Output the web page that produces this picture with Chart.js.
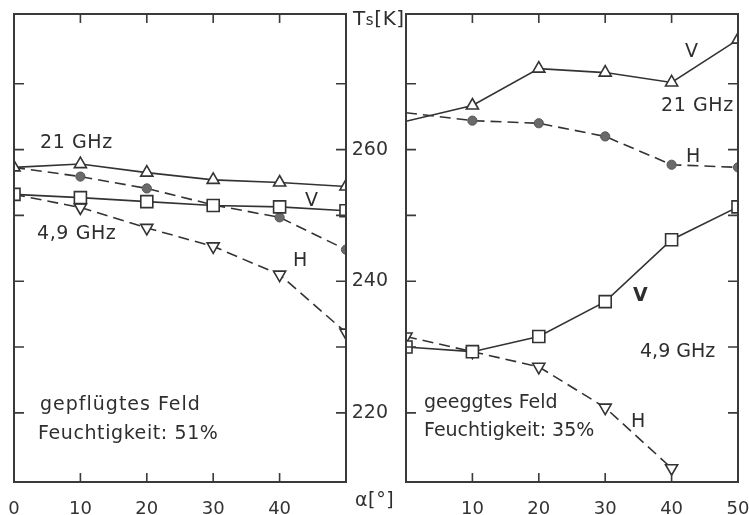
<!DOCTYPE html>
<html>
<head>
<meta charset="utf-8">
<script src="https://cdn.jsdelivr.net/npm/chart.js@4/dist/chart.umd.min.js"></script>
<style>
  html, body { margin:0; padding:0; background:#fff; }
  #wrap { position:relative; width:749px; height:515px; overflow:hidden; font-family:"DejaVu Sans", sans-serif; color:#2e2e2e; }
  canvas { position:absolute; top:0; }
  .t { position:absolute; font-size:19px; line-height:1; white-space:nowrap; letter-spacing:0.6px; }
</style>
</head>
<body>
<div id="wrap">
  <canvas id="left" width="375" height="515" style="left:0;width:375px;height:515px"></canvas>
  <canvas id="right" width="400" height="515" style="left:349px;width:400px;height:515px"></canvas>

  <div class="t" style="left:40px;top:132px">21 GHz</div>
  <div class="t" style="left:305px;top:190px">V</div>
  <div class="t" style="left:37px;top:223px">4,9 GHz</div>
  <div class="t" style="left:293px;top:250px">H</div>
  <div class="t" style="left:40px;top:394px;letter-spacing:1px">gepflügtes Feld</div>
  <div class="t" style="left:38px;top:423px">Feuchtigkeit: 51%</div>

  <div class="t" style="left:685px;top:41px">V</div>
  <div class="t" style="left:661px;top:95px">21 GHz</div>
  <div class="t" style="left:686px;top:146px">H</div>
  <div class="t" style="left:633px;top:285px;font-weight:bold">V</div>
  <div class="t" style="left:640px;top:341px;letter-spacing:0">4,9 GHz</div>
  <div class="t" style="left:631px;top:411px">H</div>
  <div class="t" style="left:424px;top:392px;letter-spacing:0">geeggtes Feld</div>
  <div class="t" style="left:424px;top:420px;letter-spacing:0">Feuchtigkeit: 35%</div>

  <div class="t" style="left:353px;top:8px;font-size:20px">T<span style="font-size:15px">s</span>[K]</div>
  <div class="t" style="left:355px;top:490px;font-size:19px">α[°]</div>
</div>
<script>
// ---- data ----
const angles = [0, 10, 20, 30, 40, 50];
const anglesHarrowed49H = [0, 10, 20, 30, 40];

// Left panel: gepflügtes Feld (plowed field), humidity 51 %
const plowed21V = [257.3, 257.8, 256.5, 255.4, 255.0, 254.4];
const plowed21H = [257.3, 255.9, 254.1, 251.6, 249.7, 244.8];
const plowed49V = [253.2, 252.7, 252.1, 251.5, 251.3, 250.7];
const plowed49H = [253.2, 251.2, 248.1, 245.3, 241.0, 232.2];

// Right panel: geeggtes Feld (harrowed field), humidity 35 %
const harrowed21V = [264.3, 266.7, 272.3, 271.7, 270.2, 276.7];
const harrowed21H = [265.6, 264.4, 264.0, 262.0, 257.7, 257.3];
const harrowed49V = [230.0, 229.3, 231.6, 236.9, 246.3, 251.3];
const harrowed49H = [231.6, 229.3, 227.0, 220.8, 211.6];

// axis ticks
const xTickMarks = [10, 20, 30, 40];
const yTickMarks = [220, 230, 240, 250, 260, 270];
const yTickLabels = [220, 240, 260];
const leftXLabels = [0, 10, 20, 30, 40];
const rightXLabels = [10, 20, 30, 40, 50];

// ---- styling ----
const INK = '#333333';
const pts = (xs, ys) => ys.map((v, i) => ({ x: xs[i], y: v }));

function ds(xs, ys, kind, dashed, hideFirst) {
  const base = {
    data: pts(xs, ys),
    borderColor: INK,
    borderWidth: 1.6,
    borderDash: dashed ? [11, 6] : [],
    tension: 0,
    pointBorderColor: INK,
    pointBorderWidth: 1.6,
  };
  const radius = r => ys.map((_, i) => (hideFirst && i === 0) ? 0 : r);
  if (kind === 'up') Object.assign(base, { pointStyle: 'triangle', pointRadius: radius(7), pointBackgroundColor: '#fff' });
  if (kind === 'down') Object.assign(base, { pointStyle: 'triangle', pointRotation: 180, pointRadius: radius(7), pointBackgroundColor: '#fff' });
  if (kind === 'sq') Object.assign(base, { pointStyle: 'rect', pointRadius: radius(8.5), pointBackgroundColor: '#fff' });
  if (kind === 'dot') Object.assign(base, { pointStyle: 'circle', pointRadius: radius(4.6), pointBackgroundColor: '#6a6a6a', pointBorderColor: '#555', pointBorderWidth: 1 });
  base.pointHoverRadius = base.pointRadius;
  return base;
}

const frameTicks = {
  id: 'frameTicks',
  afterDatasetsDraw(chart) {
    const { ctx, chartArea: a, scales: { x, y } } = chart;
    ctx.save();
    ctx.strokeStyle = '#3a3a3a';
    ctx.lineWidth = 2;
    ctx.strokeRect(a.left, a.top, a.right - a.left, a.bottom - a.top);
    ctx.lineWidth = 1.6;
    ctx.beginPath();
    xTickMarks.forEach(v => {
      const px = x.getPixelForValue(v);
      ctx.moveTo(px, a.top); ctx.lineTo(px, a.top + 9);
      ctx.moveTo(px, a.bottom); ctx.lineTo(px, a.bottom - 9);
    });
    yTickMarks.forEach(v => {
      const py = y.getPixelForValue(v);
      ctx.moveTo(a.left, py); ctx.lineTo(a.left + 10, py);
      ctx.moveTo(a.right, py); ctx.lineTo(a.right - 10, py);
    });
    ctx.stroke();
    ctx.restore();
  }
};

const Y_MIN = 209.5, Y_MAX = 280.6;

function makeChart(id, datasets, xLabels, showY, padding) {
  return new Chart(document.getElementById(id), {
    type: 'line',
    data: { datasets },
    plugins: [frameTicks],
    options: {
      responsive: false,
      animation: false,
      events: [],
      layout: { padding },
      plugins: { legend: { display: false }, tooltip: { enabled: false } },
      scales: {
        x: {
          type: 'linear', min: 0, max: 50,
          grid: { display: false }, border: { display: false },
          ticks: {
            stepSize: 10, padding: 9, color: INK,
            font: { family: 'DejaVu Sans', size: 18 },
            callback: v => xLabels.includes(v) ? String(v) : ''
          },
          afterFit: s => { s.height = 33; s.paddingLeft = 0; s.paddingRight = 0; }
        },
        y: {
          type: 'linear', min: Y_MIN, max: Y_MAX, display: showY,
          grid: { display: false }, border: { display: false },
          ticks: {
            stepSize: 10, padding: 10, color: INK,
            font: { family: 'DejaVu Sans', size: 19 },
            callback: v => yTickLabels.includes(v) ? String(v) : ''
          },
          afterFit: s => { s.width = showY ? 57 : 0; s.paddingTop = 0; s.paddingBottom = 0; }
        }
      }
    }
  });
}

makeChart('left', [
  ds(angles, plowed21V, 'up', false, false),
  ds(angles, plowed49V, 'sq', false, false),
  ds(angles, plowed21H, 'dot', true, true),
  ds(angles, plowed49H, 'down', true, true),
], leftXLabels, false, { left: 14, right: 29, top: 14, bottom: 0 });

makeChart('right', [
  ds(angles, harrowed49V, 'sq', false, false),
  ds(anglesHarrowed49H, harrowed49H, 'down', true, false),
  ds(angles, harrowed21V, 'up', false, true),
  ds(angles, harrowed21H, 'dot', true, true),
], rightXLabels, true, { left: 0, right: 11, top: 14, bottom: 0 });
</script>
</body>
</html>
